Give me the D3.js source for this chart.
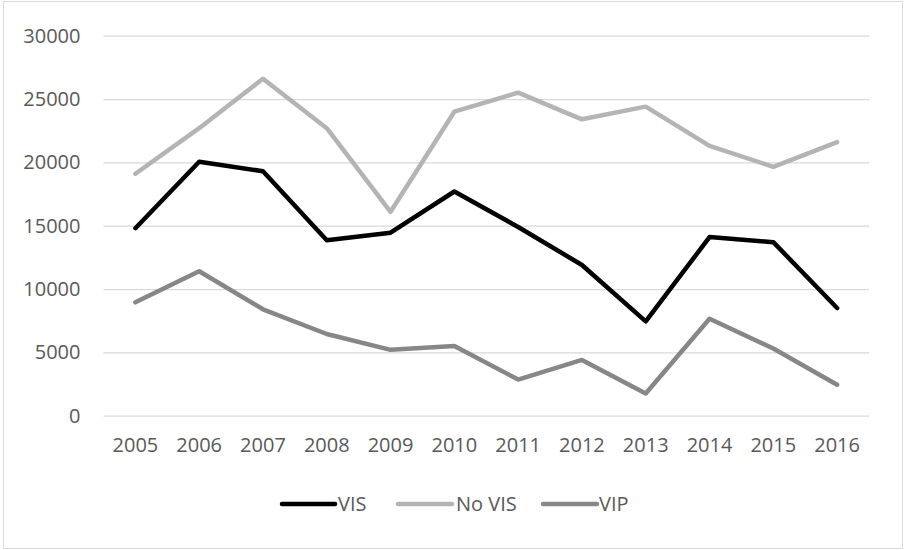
<!DOCTYPE html>
<html>
<head>
<meta charset="utf-8">
<script src="https://cdn.jsdelivr.net/npm/d3@7"></script>
<style>
  html, body { margin: 0; padding: 0; background: #fff; }
  svg { display: block; }
  text { font-family: "Open Sans", "Noto Sans", sans-serif; fill: #595959; }
</style>
</head>
<body>
<svg id="chart" width="904" height="550"></svg>
<script>
// Years on the category axis
const years = ["2005","2006","2007","2008","2009","2010","2011","2012","2013","2014","2015","2016"];

// Series values per year
const vis   = [14800, 20050, 19300, 13850, 14450, 17700, 14900, 11900, 7450, 14100, 13700, 8500];
const noVis = [19100, 22700, 26600, 22700, 16100, 24000, 25500, 23400, 24400, 21300, 19650, 21600];
const vip   = [8950, 11400, 8400, 6450, 5200, 5500, 2850, 4400, 1750, 7650, 5300, 2450];

// Value axis ticks
const yTicks = [0, 5000, 10000, 15000, 20000, 25000, 30000];

const seriesNames = ["VIS", "No VIS", "VIP"];
const seriesColors = ["#000000", "#b4b4b4", "#878787"];
const seriesValues = [vis, noVis, vip];

const svg = d3.select("#chart");
const W = 904, H = 550;
const plot = { left: 103.5, right: 869, top: 35.7, bottom: 415.7 };

// Chart frame
svg.append("rect")
  .attr("x", 3.5).attr("y", 1.5)
  .attr("width", 899).attr("height", 547)
  .attr("fill", "#fff")
  .attr("stroke", "#d9d9d9")
  .attr("stroke-width", 1);

const x = d3.scaleBand().domain(years).range([plot.left, plot.right]).paddingInner(0).paddingOuter(0);
const y = d3.scaleLinear().domain([0, 30000]).range([plot.bottom, plot.top]);

// Horizontal gridlines
const yAxis = d3.axisLeft(y).tickValues(yTicks).tickSize(-(plot.right - plot.left)).tickPadding(23)
  .tickFormat(d3.format("d"));
const gy = svg.append("g").attr("transform", `translate(${plot.left},0)`).call(yAxis);
gy.select(".domain").remove();
gy.selectAll(".tick line").attr("stroke", "#d9d9d9").attr("stroke-width", 1.3);
gy.selectAll(".tick text").attr("font-size", 20).style("fill", "#595959")
  .attr("font-family", "'Open Sans', sans-serif");

// Category axis labels
const xAxis = d3.axisBottom(x).tickSize(0).tickPadding(22);
const gx = svg.append("g").attr("transform", `translate(0,${plot.bottom})`).call(xAxis);
gx.select(".domain").remove();
gx.selectAll(".tick text").attr("font-size", 20).style("fill", "#595959")
  .attr("font-family", "'Open Sans', sans-serif");

// Series lines
const line = d3.line()
  .x((d, i) => x(years[i]) + x.bandwidth() / 2)
  .y(d => y(d));

seriesValues.forEach((vals, k) => {
  svg.append("path")
    .datum(vals)
    .attr("d", line)
    .attr("fill", "none")
    .attr("stroke", seriesColors[k])
    .attr("stroke-width", 4.5)
    .attr("stroke-linejoin", "round")
    .attr("stroke-linecap", "round");
});

// Legend
const legendItems = [
  { x1: 282, x2: 335, tx: 338 },
  { x1: 398, x2: 452, tx: 456 },
  { x1: 543, x2: 597, tx: 599 }
];
const legend = svg.append("g").attr("class", "legend");
seriesNames.forEach((name, k) => {
  const it = legendItems[k];
  legend.append("line")
    .attr("x1", it.x1).attr("x2", it.x2)
    .attr("y1", 504).attr("y2", 504)
    .attr("stroke", seriesColors[k])
    .attr("stroke-width", 4.5)
    .attr("stroke-linecap", "round");
  legend.append("text")
    .attr("x", it.tx).attr("y", 504)
    .attr("dy", "0.35em")
    .attr("font-size", 20)
    .text(name);
});
</script>
</body>
</html>
